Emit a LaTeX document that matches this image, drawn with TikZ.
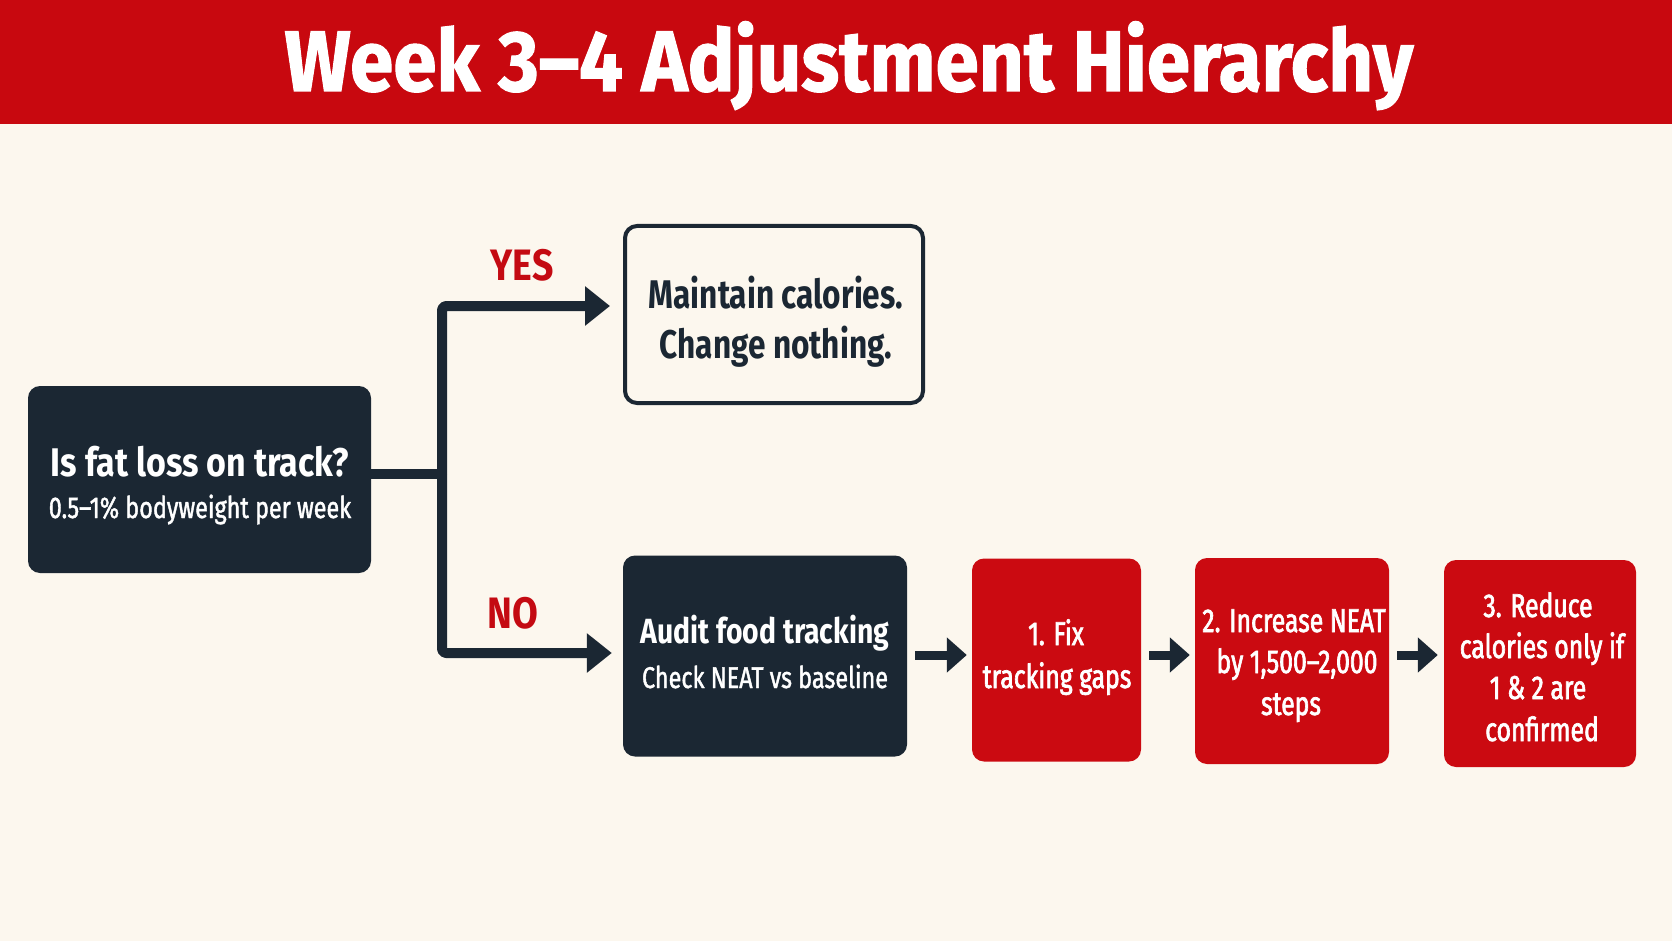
\documentclass[tikz,border=0pt]{standalone}
\usepackage{fontspec}
\usetikzlibrary{arrows.meta}
\newfontfamily\cf[FakeStretch=0.85]{Fira Sans}
\newfontfamily\cfy[FakeStretch=0.79]{Fira Sans}
\newfontfamily\cfa[FakeStretch=0.81]{Fira Sans}
\newfontfamily\cft[FakeStretch=0.91,FakeBold=1.2]{Fira Sans}
\newfontfamily\cfm[FakeStretch=0.78,FakeBold=1.4]{Fira Sans}
\newfontfamily\cfr[FakeStretch=0.75,FakeBold=2]{Fira Sans}
\definecolor{bg}{HTML}{FCF7EE}
\definecolor{hred}{HTML}{C8080F}
\definecolor{navy}{HTML}{1B2733}
\definecolor{bred}{HTML}{CB0A11}
\definecolor{lred}{HTML}{C40A12}
\begin{document}
\begin{tikzpicture}[x=1pt,y=-1pt,
  box/.style={rectangle,rounded corners=12pt,inner sep=0pt},
  darkbox/.style={box,fill=navy},
  redbox/.style={box,fill=bred},
  linebox/.style={box,draw=navy,line width=4pt,fill=bg},
  txt/.style={anchor=base,inner sep=0pt},
  wt/.style={txt,text=white},
  rt/.style={wt,font=\fontsize{33}{33}\selectfont\cfr},
  conn/.style={draw=navy,line width=10pt,line join=round,rounded corners=4pt},
  bigarrow/.style={conn,-{Triangle[length=25pt,width=38pt]}},
  smallarrow/.style={draw=navy,line width=9pt,-{Triangle[length=20pt,width=34pt]}},
  lab/.style={txt,text=lred,font=\fontsize{44}{44}\selectfont\cf\bfseries}]
\useasboundingbox (0,0) rectangle (1672,941);
\fill[bg] (0,0) rectangle (1672,941);
\fill[hred] (0,0) rectangle (1672,124);
\node[txt,text=white,font=\fontsize{86}{86}\selectfont\cft\bfseries] (title) at (849,91) {Week 3–4 Adjustment Hierarchy};

% boxes
\node[darkbox,minimum width=343pt,minimum height=187pt] (q) at (199.5,479.5) {};
\node[linebox,minimum width=298pt,minimum height=177pt] (yes) at (774,314.5) {};
\node[darkbox,minimum width=284pt,minimum height=201pt] (audit) at (765,656) {};
\node[redbox,minimum width=169pt,minimum height=203pt] (r1) at (1056.5,660) {};
\node[redbox,minimum width=194pt,minimum height=206pt] (r2) at (1292,661) {};
\node[redbox,minimum width=192pt,minimum height=207pt] (r3) at (1540,663.5) {};

% texts
\node[wt,font=\fontsize{40}{40}\selectfont\cf\bfseries] (q1) at (200,476) {Is fat loss on track?};
\node[wt,font=\fontsize{30}{30}\selectfont\cfm] (q2) at (200,518) {0.5–1\% bodyweight per week};
\node[txt,text=navy,font=\fontsize{40}{40}\selectfont\cfy\bfseries] (y1) at (776,308) {Maintain calories.};
\node[txt,text=navy,font=\fontsize{40}{40}\selectfont\cfy\bfseries] (y2) at (776,358) {Change nothing.};
\node[wt,font=\fontsize{35}{35}\selectfont\cfa\bfseries] (a1) at (765,643) {Audit food tracking};
\node[wt,font=\fontsize{30}{30}\selectfont\cfm] (a2) at (765,688) {Check NEAT vs baseline};
\node[rt] (s1a) at (1056,645) {1. Fix};
\node[rt] (s1b) at (1057,688) {tracking gaps};
\node[rt] (s2a) at (1294,632) {2. Increase NEAT};
\node[rt] (s2b) at (1297,673) {by 1,500–2,000};
\node[rt] (s2c) at (1291,715) {steps};
\node[rt] (s3a) at (1538,617) {3. Reduce};
\node[rt] (s3b) at (1542,658) {calories only if};
\node[rt] (s3c) at (1538,699) {1 \& 2 are};
\node[rt] (s3d) at (1542,741) {confirmed};

% labels
\node[lab] (ylab) at (522,280) {YES};
\node[lab] (nlab) at (513,628) {NO};

% connectors
\coordinate (split) at (442,474);
\draw[conn,rounded corners=0pt] (q.east |- split) -- (split);
\draw[bigarrow,shorten >=13pt] (split) |- ([yshift=8.5pt]yes.west);
\draw[bigarrow,shorten >=11pt] (split) |- ([yshift=3pt]audit.west);
\draw[smallarrow,shorten <=8pt,shorten >=5pt] (audit.east |- 0,655) -- (r1.west |- 0,655);
\draw[smallarrow,shorten <=8pt,shorten >=5pt] (r1.east |- 0,655) -- (r2.west |- 0,655);
\draw[smallarrow,shorten <=8pt,shorten >=6pt] (r2.east |- 0,655) -- (r3.west |- 0,655);
\end{tikzpicture}
\end{document}
